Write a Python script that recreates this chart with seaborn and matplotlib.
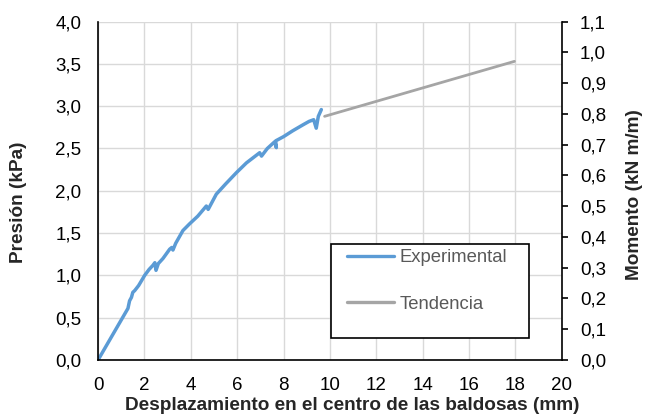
import matplotlib
matplotlib.use("Agg")
import matplotlib.pyplot as plt
import matplotlib.ticker as mticker
from matplotlib.patches import Rectangle
import seaborn as sns
import pandas as pd

# datos
exp_x = [0.0, 1.29, 1.36, 1.44, 1.50, 1.58, 1.75, 2.01, 2.20, 2.37, 2.45, 2.50, 2.60, 2.80,
         3.09, 3.18, 3.23, 3.35, 3.66, 3.95, 4.30, 4.67, 4.75, 5.10, 5.50, 5.97, 6.40,
         6.97, 7.05, 7.30, 7.62, 7.69, 7.66, 8.00, 8.40, 8.84, 9.10, 9.30, 9.41, 9.50, 9.63]
exp_y = [0.0, 0.61, 0.70, 0.74, 0.80, 0.82, 0.88, 1.00, 1.07, 1.12, 1.15, 1.06, 1.14, 1.20,
         1.31, 1.33, 1.30, 1.38, 1.53, 1.61, 1.70, 1.82, 1.78, 1.96, 2.08, 2.215, 2.33,
         2.45, 2.41, 2.50, 2.58, 2.51, 2.59, 2.64, 2.71, 2.78, 2.82, 2.84, 2.74, 2.88, 2.96]
tend_x = [9.77, 17.96]
tend_y = [2.88, 3.53]

blue = "#5B9BD5"
gray = "#A5A5A5"

sns.set_style("whitegrid")
plt.rcParams["font.family"] = ["Liberation Sans", "DejaVu Sans"]

fig = plt.figure(figsize=(6.45, 4.15), dpi=100)
ax = fig.add_axes([0.152, 0.1325, 0.719, 0.8155])

df_exp = pd.DataFrame({"x": exp_x, "y": exp_y})
df_tend = pd.DataFrame({"x": tend_x, "y": tend_y})
sns.lineplot(data=df_exp, x="x", y="y", ax=ax, color=blue, lw=2.5, sort=False,
             estimator=None, label="Experimental")
sns.lineplot(data=df_tend, x="x", y="y", ax=ax, color=gray, lw=2.0, sort=False,
             estimator=None, label="Tendencia")

comma = mticker.FuncFormatter(lambda v, p: f"{v:.1f}".replace(".", ","))
nocomma = mticker.FuncFormatter(lambda v, p: f"{v:.0f}")

ax.set_xlim(0, 20)
ax.set_ylim(0, 4.0)
ax.set_xticks(range(0, 21, 2))
ax.set_yticks([i * 0.5 for i in range(9)])
ax.yaxis.set_major_formatter(comma)
ax.xaxis.set_major_formatter(nocomma)
ax.grid(True, color="#D9D9D9", lw=1.0)
ax.tick_params(labelsize=13.5, length=0, colors="black")
ax.tick_params(axis="y", pad=12)
ax.tick_params(axis="x", pad=12)
for s in ["top", "right"]:
    ax.spines[s].set_visible(False)
for s in ["left", "bottom"]:
    ax.spines[s].set_color("black")
    ax.spines[s].set_linewidth(1.2)

ax.set_xlabel("Desplazamiento en el centro de las baldosas (mm)", fontsize=13.7,
              fontweight="bold")
ax.xaxis.set_label_coords(0.548, -0.133)
ax.xaxis.label.set_va("center")
ax.set_ylabel("Presión (kPa)", fontsize=13.7, fontweight="bold")
ax.yaxis.set_label_coords(-0.172, 0.467)
ax.yaxis.label.set_va("center")

ax2 = ax.twinx()
ax2.set_ylim(0, 1.1)
ax2.set_yticks([i * 0.1 for i in range(12)])
ax2.yaxis.set_major_formatter(comma)
ax2.grid(False)
ax2.tick_params(labelsize=13.5, length=4, width=1.2, pad=9, direction="out", colors="black")
for s in ["top", "left", "bottom"]:
    ax2.spines[s].set_visible(False)
ax2.spines["right"].set_color("black")
ax2.spines["right"].set_linewidth(1.2)
ax2.set_ylabel("Momento (kN m/m)", fontsize=13.7, fontweight="bold", rotation=90)
ax2.yaxis.set_label_coords(1.157, 0.49)
ax2.yaxis.label.set_va("center")

# caja de la leyenda
ax.add_patch(Rectangle((0.502, 0.065), 0.427, 0.278, transform=ax.transAxes,
                       facecolor="white", edgecolor="black", lw=1.2, zorder=4))
leg = ax.legend(loc="upper left", bbox_to_anchor=(0.536, 0.327), frameon=False,
                fontsize=13.3, handlelength=2.55, labelspacing=1.6, borderpad=0,
                handletextpad=0.3, borderaxespad=0)
for t in leg.get_texts():
    t.set_color("#595959")
for h in leg.get_lines():
    h.set_linewidth(2.4)
leg.set_zorder(5)

fig.savefig("out.png", dpi=100)
